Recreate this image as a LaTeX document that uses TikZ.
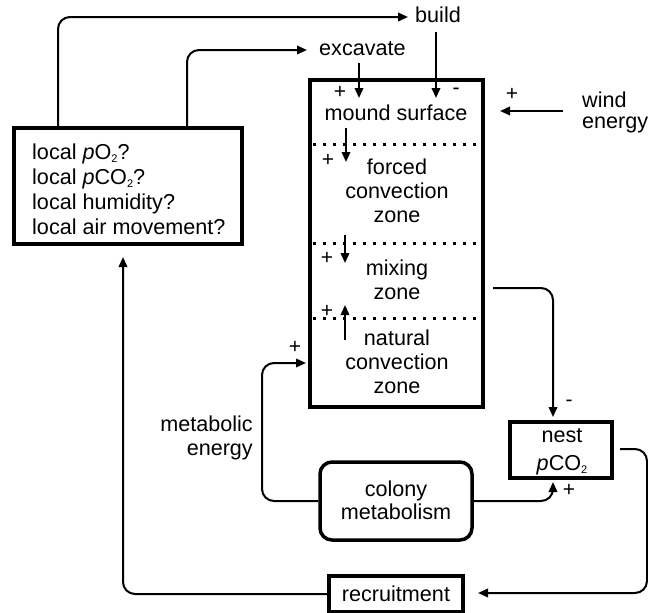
\documentclass[tikz,border=0pt]{standalone}
\usepackage{fontspec}
\setmainfont{Liberation Sans}
\usetikzlibrary{arrows.meta}
\newcommand\subtwo{\raisebox{-3.5pt}{\fontsize{11}{11}\selectfont 2}}
\begin{document}
\begin{tikzpicture}[x=1pt,y=-1pt,
  every node/.style={font=\fontsize{21.6}{24}\selectfont, inner sep=0pt},
  box/.style={draw, line width=3.5pt},
  conn/.style={line width=2pt, rounded corners=12pt},
  arr/.style={conn, -{Triangle[length=10pt,width=8.5pt]}},
  sign/.style={font=\fontsize{21}{21}\selectfont},
  dots/.style={line width=3pt, dash pattern=on 3pt off 7pt},
]
\useasboundingbox (0,0) rectangle (648,613);

% boxes
\node[box, minimum width=228pt, minimum height=116pt] (lbox) at (128,186) {};
\node[anchor=base west, align=left, font=\fontsize{21.6}{25}\selectfont] (ltext) at (32,234)
  {local \textit{p}O\subtwo?\\local \textit{p}CO\subtwo?\\local humidity?\\local air movement?};

\node[box, minimum width=173pt, minimum height=327pt] (mound) at (396.5,243.5) {};
\draw[dots] (313,144) -- (481,144);
\draw[dots] (313,243) -- (481,243);
\draw[dots] (313,318) -- (481,318);

\node[anchor=base] (ms) at (396,120) {mound surface};
\node[anchor=base, align=center] (fz) at (397,222) {forced\\convection\\zone};
\node[anchor=base, align=center] (mz) at (397,299) {mixing\\zone};
\node[anchor=base, align=center] (nz) at (397,393) {natural\\convection\\zone};

\node[anchor=base west] (build) at (415,23) {build};
\node[anchor=base west] (excavate) at (319,55) {excavate};
\node[anchor=base west, align=left, font=\fontsize{21.6}{21}\selectfont] (wind) at (582,128) {wind\\energy};
\node[anchor=base east, align=right] (meten) at (253,455) {metabolic\\energy};

\node[box, rounded corners=12pt, minimum width=152pt, minimum height=78pt] (colony) at (396,501) {};
\node[anchor=base, align=center, font=\fontsize{21.6}{23}\selectfont] (coltext) at (396,519) {colony\\metabolism};

\node[box, minimum width=102pt, minimum height=56pt] (nest) at (561,450) {};
\node[anchor=base, align=center, font=\fontsize{21.6}{28}\selectfont] (nesttext) at (562,470) {nest\\\textit{p}CO\subtwo};

\node[box, minimum width=134pt, minimum height=36pt] (recr) at (396,594) {};
\node[anchor=base] (recrtext) at (396,601) {recruitment};

% free ends
\coordinate (bT) at (408,17);
\coordinate (eT) at (307,50);
\coordinate (exS) at (359,63);
\coordinate (exE) at (359,98);
\coordinate (buS) at (436,32);
\coordinate (buE) at (436,98);
\coordinate (wS) at (563,111);
\coordinate (wE) at (500,111);
\coordinate (m1S) at (346,128);
\coordinate (m1E) at (346,162);
\coordinate (m2S) at (345,235);
\coordinate (m2E) at (345,263);
\coordinate (m3S) at (345,340);
\coordinate (m3E) at (345,305);
\coordinate (metE) at (306,363);
\coordinate (mixS) at (493,288);
\coordinate (nT) at (553,417);
\coordinate (nB) at (553,482);
\coordinate (nS) at (620,449);
\coordinate (rE) at (478,593);
\coordinate (lB) at (123,257);

% connectors
\draw[arr] (lbox.north -| 58,0) |- (bT);
\draw[arr] (lbox.north -| 187,0) |- (eT);
\draw[arr] (exS) -- (exE);
\draw[arr] (buS) -- (buE);
\draw[arr] (wS) -- (wE);
\draw[arr] (m1S) -- (m1E);
\draw[arr] (m2S) -- (m2E);
\draw[arr] (m3S) -- (m3E);
\draw[arr] (colony.west) -- (262,501) -- (262,363) -- (metE);
\draw[arr] (mixS) -| (nT);
\draw[arr] (colony.east) -| (nB);
\draw[arr] (nS) -- (647,449) -- (647,593) -- (rE);
\draw[arr] (recr.west) -- (123,594) -- (lB);

% signs
\node[sign] (s1) at (340,92) {+};
\node[sign] (s2) at (456,91) {-};
\node[sign] (s3) at (512,94) {+};
\node[sign] (s4) at (328,160) {+};
\node[sign] (s5) at (327,258) {+};
\node[sign] (s6) at (327,311) {+};
\node[sign] (s7) at (295,347) {+};
\node[sign] (s8) at (569,403) {-};
\node[sign] (s9) at (569,490) {+};
\end{tikzpicture}
\end{document}
